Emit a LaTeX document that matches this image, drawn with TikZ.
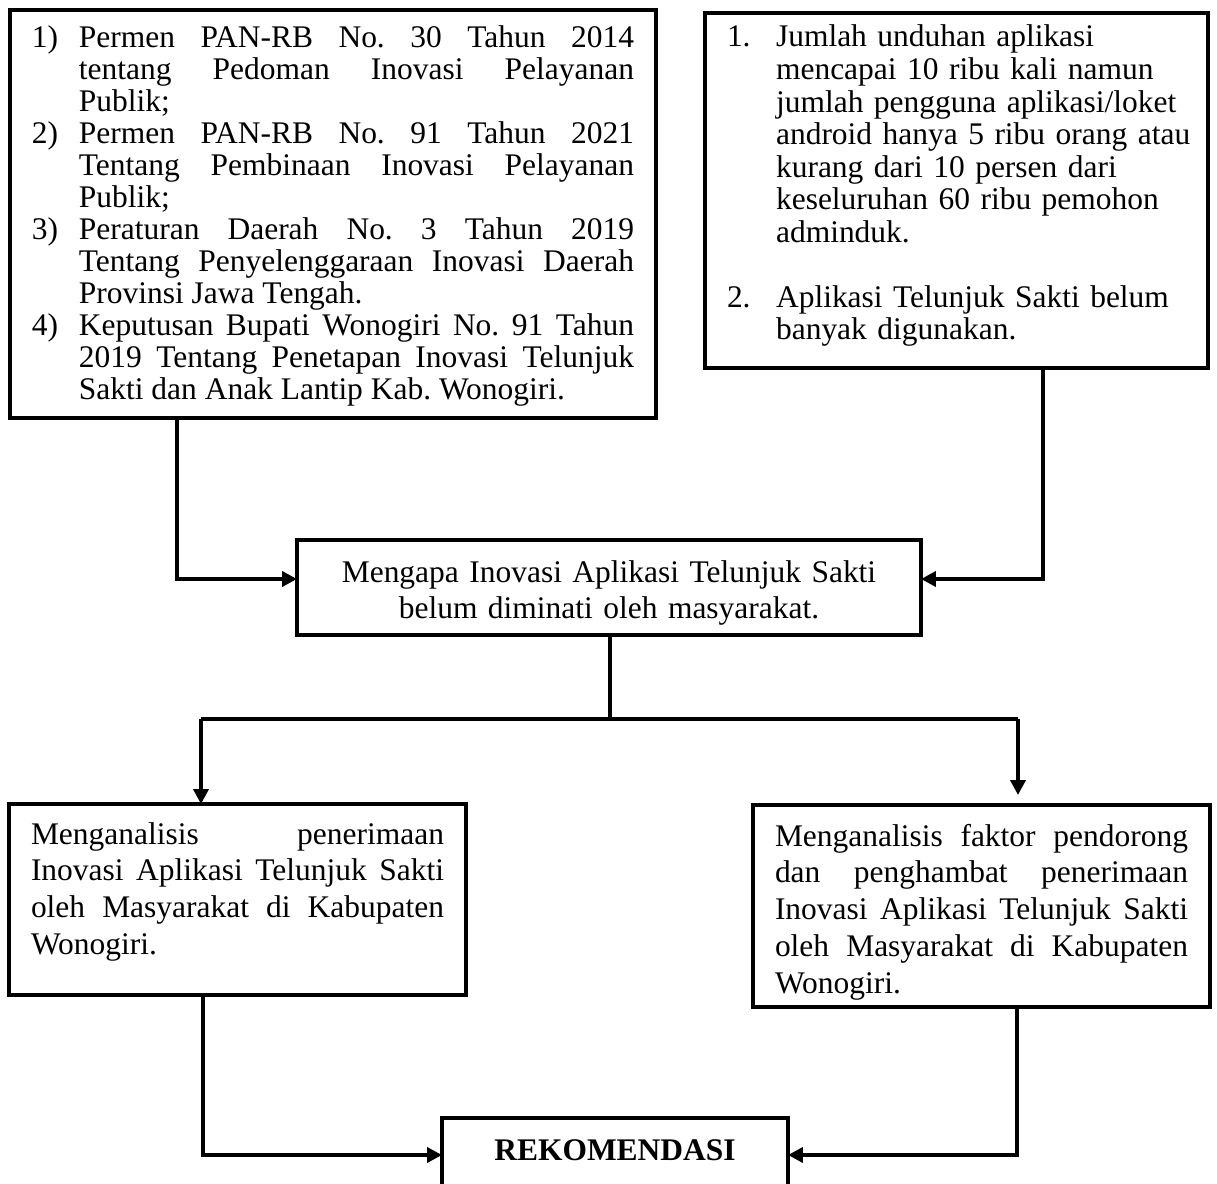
\documentclass[tikz,border=0pt]{standalone}
\usepackage{fontspec}
\setmainfont{Liberation Serif}
\usetikzlibrary{arrows.meta}

% numbered line with hanging indent
\newcommand{\numline}[2]{\noindent\hangindent=#1\hangafter=1\makebox[#1][l]{#2}}

\begin{document}
\begin{tikzpicture}[x=0.375pt,y=-0.375pt,
  box/.style={draw,line width=1.5pt,inner sep=0pt,inner xsep=8.25pt,outer sep=0pt,
    anchor=north west},
  conn/.style={line width=1.4pt},
  arrow/.style={conn,-{Triangle[length=5.6pt,width=5.6pt]}}]
\clip (0,0) rectangle (1217,1184);
% legal basis
\node[box,text width=225.75pt,align=justify,text height=14.25pt,text depth=138.75pt,
  font=\fontsize{11.8}{12}\selectfont]
  (dasar) at (10,10) {\frenchspacing\lineskiplimit=-10pt\tolerance=10000
  \numline{17.6pt}{1)}Permen PAN-RB No. 30 Tahun 2014\linebreak tentang Pedoman Inovasi Pelayanan\linebreak Publik;\par
  \numline{17.6pt}{2)}Permen PAN-RB No. 91 Tahun 2021\linebreak Tentang Pembinaan Inovasi Pelayanan\linebreak Publik;\par
  \numline{17.6pt}{3)}Peraturan Daerah No. 3 Tahun 2019\linebreak Tentang Penyelenggaraan Inovasi Daerah\linebreak Provinsi Jawa Tengah.\par
  \numline{17.6pt}{4)}Keputusan Bupati Wonogiri No. 91 Tahun\linebreak 2019 Tentang Penetapan Inovasi Telunjuk\linebreak Sakti dan Anak Lantip Kab. Wonogiri.\par};
% facts
\node[box,text width=172.1pt,text height=12.75pt,text depth=120.375pt,
  font=\fontsize{11.8}{12.2}\selectfont]
  (fakta) at (705,13) {\frenchspacing\lineskiplimit=-10pt\rightskip=-10pt plus 1fil\hfuzz=12pt
  \numline{18.4pt}{1.}Jumlah unduhan aplikasi\newline mencapai 10 ribu kali namun\newline jumlah pengguna aplikasi/loket\newline android hanya 5 ribu orang atau\newline kurang dari 10 persen dari\newline keseluruhan 60 ribu pemohon\newline adminduk.\par\vspace{12.2pt}
  \numline{18.4pt}{2.}Aplikasi Telunjuk Sakti belum\newline banyak digunakan.\par};
% problem
\node[box,text width=217.5pt,align=center,text height=15.75pt,text depth=19.875pt,
  font=\fontsize{11.8}{13.6}\selectfont]
  (masalah) at (297,540) {Mengapa Inovasi Aplikasi Telunjuk Sakti\\ belum diminati oleh masyarakat.};
% objectives
\node[box,text width=154.875pt,align=justify,text height=15pt,text depth=56.625pt,
  font=\fontsize{11.8}{13.8}\selectfont]
  (tujuan1) at (9,804) {\tolerance=10000
  Menganalisis penerimaan\linebreak Inovasi Aplikasi Telunjuk Sakti\linebreak oleh Masyarakat di Kabupaten\linebreak Wonogiri.\par};
\node[box,text width=154.875pt,align=justify,text height=15.375pt,text depth=60.375pt,
  font=\fontsize{11.8}{13.8}\selectfont]
  (tujuan2) at (753,805) {\tolerance=10000
  Menganalisis faktor pendorong\linebreak dan penghambat penerimaan\linebreak Inovasi Aplikasi Telunjuk Sakti\linebreak oleh Masyarakat di Kabupaten\linebreak Wonogiri.\par};
% result
\node[box,text width=113.25pt,align=center,text height=15.75pt,text depth=30pt,
  font=\fontsize{11.8}{12}\selectfont\bfseries] (rekom) at (442,1118) {REKOMENDASI};

% bends
\coordinate (kiri) at (177,579);
\coordinate (kanan) at (1043,579);
\coordinate (tengah) at (610,719);
\coordinate (cabL) at (201,719);
\coordinate (cabR) at (1018,719);
\coordinate (ujungR) at (1018,795);
\coordinate (bawahL) at (203,1155);
\coordinate (bawahR) at (1017,1155);

% connectors
\draw[arrow] (dasar.south -| kiri) |- (masalah.west |- kiri);
\draw[arrow] (fakta.south -| kanan) |- (masalah.east |- kanan);
\draw[conn] (masalah.south -| tengah) -- (tengah);
\draw[conn] (cabL) -- (cabR);
\draw[arrow] (cabL) -- (tujuan1.north -| cabL);
\draw[arrow] (cabR) -- (ujungR);
\draw[arrow] (tujuan1.south -| bawahL) |- (rekom.west |- bawahL);
\draw[arrow] (tujuan2.south -| bawahR) |- (rekom.east |- bawahR);
\end{tikzpicture}
\end{document}
